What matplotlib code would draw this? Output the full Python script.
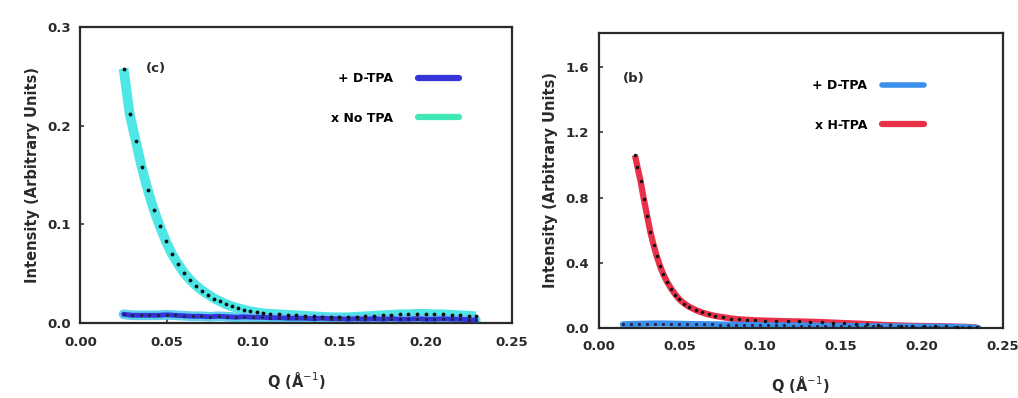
import matplotlib
matplotlib.use("Agg")
import matplotlib.pyplot as plt
from matplotlib.lines import Line2D

# ---- panel (c): D-TPA vs No TPA ----
q_notpa = [0.025, 0.0285, 0.032, 0.0355, 0.039, 0.0425, 0.046, 0.0495, 0.053, 0.0565,
           0.060, 0.0635, 0.067, 0.0705, 0.074, 0.0775, 0.081, 0.0845, 0.088, 0.0915,
           0.095, 0.0985, 0.102, 0.106, 0.110, 0.115, 0.120, 0.125, 0.130, 0.135,
           0.140, 0.145, 0.150, 0.155, 0.160, 0.165, 0.170, 0.175, 0.180, 0.185,
           0.190, 0.195, 0.200, 0.205, 0.210, 0.215, 0.220, 0.225, 0.229]
i_notpa = [0.258, 0.212, 0.185, 0.158, 0.135, 0.115, 0.098, 0.083, 0.070, 0.060,
           0.051, 0.044, 0.038, 0.033, 0.029, 0.025, 0.022, 0.019, 0.017, 0.015,
           0.0135, 0.012, 0.011, 0.010, 0.0095, 0.009, 0.0085, 0.008, 0.0075, 0.007,
           0.0065, 0.006, 0.006, 0.006, 0.0065, 0.007, 0.0075, 0.008, 0.0085, 0.009,
           0.009, 0.0095, 0.0095, 0.009, 0.009, 0.0085, 0.008, 0.0075, 0.007]

q_dtpa_c = [0.025, 0.030, 0.035, 0.040, 0.045, 0.050, 0.055, 0.060, 0.065, 0.070,
            0.075, 0.080, 0.085, 0.090, 0.095, 0.100, 0.105, 0.110, 0.115, 0.120,
            0.125, 0.130, 0.135, 0.140, 0.145, 0.150, 0.155, 0.160, 0.165, 0.170,
            0.175, 0.180, 0.185, 0.190, 0.195, 0.200, 0.205, 0.210, 0.215, 0.220,
            0.225, 0.229]
i_dtpa_c = [0.009, 0.008, 0.008, 0.008, 0.008, 0.0085, 0.008, 0.0075, 0.007, 0.007,
            0.0065, 0.007, 0.0065, 0.006, 0.0065, 0.006, 0.006, 0.0055, 0.0055, 0.005,
            0.005, 0.005, 0.0045, 0.005, 0.0045, 0.0045, 0.004, 0.0045, 0.004, 0.0045,
            0.004, 0.0045, 0.004, 0.004, 0.0045, 0.004, 0.004, 0.0045, 0.004, 0.004,
            0.0035, 0.003]

# ---- panel (b): D-TPA vs H-TPA ----
q_htpa = [0.0225, 0.024, 0.026, 0.028, 0.030, 0.032, 0.034, 0.036, 0.038, 0.040,
          0.0425, 0.045, 0.0475, 0.050, 0.053, 0.056, 0.060, 0.064, 0.068, 0.072,
          0.077, 0.082, 0.087, 0.092, 0.097, 0.103, 0.110, 0.117, 0.124, 0.131,
          0.138, 0.145, 0.152, 0.159, 0.166, 0.173, 0.180, 0.187, 0.194, 0.201,
          0.208, 0.215, 0.222, 0.229, 0.234]
i_htpa = [1.06, 0.99, 0.90, 0.79, 0.69, 0.59, 0.51, 0.44, 0.38, 0.33,
          0.28, 0.24, 0.205, 0.175, 0.15, 0.13, 0.11, 0.095, 0.083, 0.074,
          0.066, 0.058, 0.053, 0.050, 0.047, 0.045, 0.043, 0.041, 0.040, 0.038,
          0.036, 0.033, 0.030, 0.027, 0.024, 0.020, 0.017, 0.015, 0.013, 0.012,
          0.011, 0.010, 0.008, 0.006, 0.003]

q_dtpa_b = [0.015, 0.020, 0.025, 0.030, 0.035, 0.040, 0.045, 0.050, 0.055, 0.060,
            0.065, 0.070, 0.075, 0.080, 0.085, 0.090, 0.095, 0.100, 0.105, 0.110,
            0.115, 0.120, 0.125, 0.130, 0.135, 0.140, 0.145, 0.150, 0.155, 0.160,
            0.165, 0.170, 0.175, 0.180, 0.185, 0.190, 0.195, 0.200, 0.205, 0.210,
            0.215, 0.220, 0.225, 0.230, 0.235]
i_dtpa_b = [0.022, 0.024, 0.025, 0.026, 0.027, 0.027, 0.026, 0.025, 0.024, 0.023,
            0.023, 0.022, 0.021, 0.020, 0.020, 0.019, 0.018, 0.018, 0.017, 0.016,
            0.016, 0.015, 0.015, 0.014, 0.014, 0.013, 0.013, 0.012, 0.012, 0.011,
            0.011, 0.010, 0.010, 0.009, 0.009, 0.009, 0.008, 0.008, 0.008, 0.007,
            0.007, 0.006, 0.005, 0.003, 0.0]

x_ticks = [0.00, 0.05, 0.10, 0.15, 0.20, 0.25]
y_ticks_c = [0.0, 0.1, 0.2, 0.3]
y_ticks_b = [0.0, 0.4, 0.8, 1.2, 1.6]

fig = plt.figure(figsize=(10.18, 3.98), dpi=100)
ax1 = fig.add_axes([0.079, 0.188, 0.424, 0.744])
ax2 = fig.add_axes([0.588, 0.176, 0.397, 0.741])

bold = {"fontweight": "bold", "color": "#2a2a2a"}


def style_axes(ax, yticks, ylabels, ymax):
    ax.set_xlim(0, 0.25)
    ax.set_ylim(0, ymax)
    ax.set_xticks(x_ticks)
    ax.set_xticklabels([f"{t:.2f}" for t in x_ticks], fontsize=9.5, **bold)
    ax.set_yticks(yticks)
    ax.set_yticklabels(ylabels, fontsize=9.5, **bold)
    ax.tick_params(direction="in", length=3, width=1.2, color="#333333")
    ax.tick_params(axis="x", pad=9)
    ax.tick_params(axis="y", pad=7)
    for s in ax.spines.values():
        s.set_linewidth(1.6)
        s.set_color("#2a2a2a")
    ax.set_xlabel("Q (Å$^{-1}$)", fontsize=10.5, labelpad=15, **bold)
    ax.set_ylabel("Intensity (Arbitrary Units)", fontsize=10.5, labelpad=5, **bold)


# Panel (c)
ax1.plot(q_dtpa_c, i_dtpa_c, color="#5fd0f0", lw=7, solid_capstyle="round", zorder=2)
ax1.plot(q_dtpa_c, i_dtpa_c, color="#3434d8", lw=3.5, solid_capstyle="round", zorder=3)
ax1.plot(q_notpa, i_notpa, color="#4fe6e6", lw=7, solid_capstyle="butt", zorder=1)
ax1.plot(q_notpa, i_notpa, ".", color="#111111", ms=3.5, zorder=4)
ax1.plot(q_dtpa_c, i_dtpa_c, ".", color="#222244", ms=2.5, zorder=4)
style_axes(ax1, y_ticks_c, ["0.0", "0.1", "0.2", "0.3"], 0.3)
ax1.text(0.174, 0.861, "(c)", transform=ax1.transAxes, fontsize=9.5,
         ha="center", va="center", **bold)

h1 = [Line2D([], [], color="#3434d8", lw=4.5, solid_capstyle="round"),
      Line2D([], [], color="#40e8b8", lw=4.5, solid_capstyle="round")]
ax1.legend(h1, ["+ D-TPA", "x No TPA"], loc="upper right", bbox_to_anchor=(0.903, 0.885),
           frameon=False, markerfirst=False, handlelength=3.3, handletextpad=2.0,
           labelspacing=2.1, prop={"weight": "bold", "size": 9})

# Panel (b)
ax2.plot(q_dtpa_b, i_dtpa_b, color="#3a90ea", lw=4.5, solid_capstyle="round", zorder=2)
ax2.plot(q_htpa, i_htpa, color="#e83048", lw=4.5, solid_capstyle="butt", zorder=1)
ax2.plot(q_htpa, i_htpa, ".", color="#111111", ms=3, zorder=4)
ax2.plot(q_dtpa_b, i_dtpa_b, ".", color="#222244", ms=2.5, zorder=4)
style_axes(ax2, y_ticks_b, ["0.0", "0.4", "0.8", "1.2", "1.6"], 1.81)
ax2.text(0.086, 0.847, "(b)", transform=ax2.transAxes, fontsize=9.5,
         ha="center", va="center", **bold)

h2 = [Line2D([], [], color="#3a90ea", lw=4, solid_capstyle="round"),
      Line2D([], [], color="#e83048", lw=4.5, solid_capstyle="round")]
ax2.legend(h2, ["+ D-TPA", "x H-TPA"], loc="upper right", bbox_to_anchor=(0.832, 0.881),
           frameon=False, markerfirst=False, handlelength=3.3, handletextpad=1.2,
           labelspacing=2.1, prop={"weight": "bold", "size": 9})

fig.savefig("out.png", dpi=100, facecolor="white")
